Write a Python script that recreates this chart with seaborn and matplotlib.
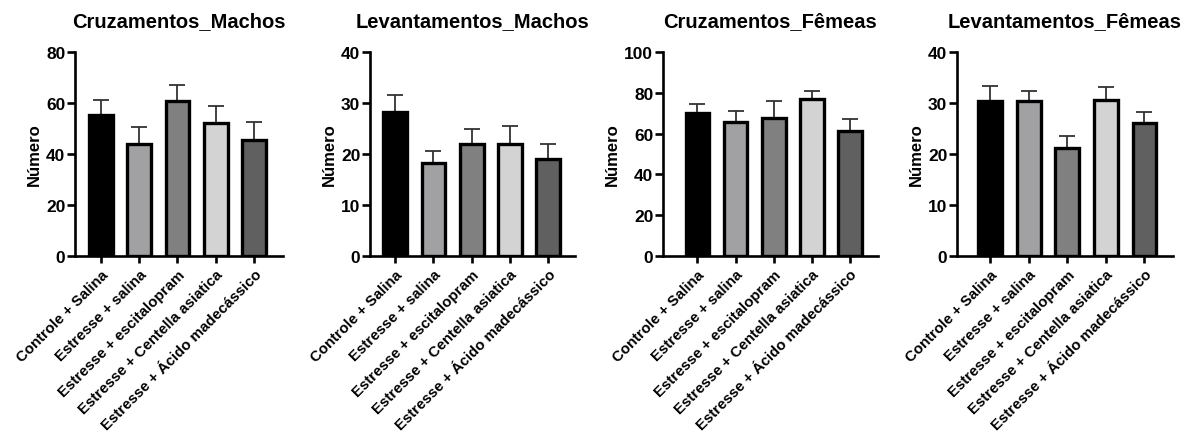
import matplotlib
matplotlib.use("Agg")
import matplotlib.pyplot as plt
import seaborn as sns
import pandas as pd
import numpy as np

groups = ["Controle + Salina", "Estresse + salina", "Estresse + escitalopram",
          "Estresse + Centella asiatica", "Estresse + Ácido madecássico"]
colors = ["#000000", "#a0a0a5", "#808080", "#d3d3d3", "#606060"]

titles = ["Cruzamentos_Machos", "Levantamentos_Machos", "Cruzamentos_Fêmeas", "Levantamentos_Fêmeas"]

cruz_machos = [55.3, 44.0, 60.7, 52.0, 45.4]
cruz_machos_err = [5.9, 6.6, 6.4, 6.7, 7.1]
lev_machos = [28.2, 18.2, 22.0, 21.9, 19.1]
lev_machos_err = [3.4, 2.4, 3.0, 3.5, 2.8]
cruz_femeas = [70.2, 65.8, 67.5, 77.0, 61.3]
cruz_femeas_err = [4.5, 5.4, 8.5, 3.9, 5.7]
lev_femeas = [30.3, 30.3, 21.2, 30.6, 26.0]
lev_femeas_err = [3.0, 2.0, 2.3, 2.5, 2.3]

means = [cruz_machos, lev_machos, cruz_femeas, lev_femeas]
errs = [cruz_machos_err, lev_machos_err, cruz_femeas_err, lev_femeas_err]
ymax = [80, 40, 100, 40]
ystep = [20, 10, 20, 10]

sns.set_theme(style="white")
plt.rcParams['font.family'] = ['Liberation Sans', 'DejaVu Sans']
plt.rcParams['font.weight'] = 'bold'
plt.rcParams['text.color'] = 'black'
plt.rcParams['axes.labelcolor'] = 'black'
plt.rcParams['xtick.color'] = 'black'
plt.rcParams['ytick.color'] = 'black'

W, H = 1189, 439
fig = plt.figure(figsize=(W / 100, H / 100), dpi=100)

# axes extents in pixels (left, right) and x-limits
px = [(75, 283), (370, 575), (663, 878), (957, 1173)]
xlims = [(-0.67, 4.75), (-0.66, 4.7), (-0.9, 4.73), (-0.86, 4.74)]
top_px, bot_px = 53, 257

for i in range(4):
    l, r = px[i]
    ax = fig.add_axes([l / W, 1 - bot_px / H, (r - l) / W, (bot_px - top_px) / H])
    df = pd.DataFrame({"grupo": groups, "valor": means[i]})
    sns.barplot(data=df, x="grupo", y="valor", hue="grupo", palette=colors,
                order=groups, hue_order=groups, legend=False, errorbar=None,
                width=0.62, edgecolor="black", linewidth=2.4, ax=ax, zorder=2)
    xs = np.arange(len(groups))
    ax.errorbar(xs, means[i], yerr=[np.zeros(len(groups)), errs[i]], fmt="none",
                ecolor="#333333", elinewidth=1.3, capsize=5.5, capthick=1.3, zorder=1)
    ax.set_ylim(0, ymax[i])
    ax.set_xlim(*xlims[i])
    ax.set_yticks(np.arange(0, ymax[i] + 1, ystep[i]))
    ax.set_xlabel("")
    ax.set_ylabel("Número", fontsize=12, fontweight="bold", labelpad=3)
    ax.set_title(titles[i], fontsize=14.5, fontweight="bold", pad=19, color="black")
    for s in ["top", "right"]:
        ax.spines[s].set_visible(False)
    for s in ["left", "bottom"]:
        ax.spines[s].set_linewidth(1.9)
        ax.spines[s].set_color("black")
    ax.tick_params(axis="y", length=6, width=1.9, labelsize=12.5, pad=1, left=True, color="black")
    ax.tick_params(axis="x", length=5, width=1.9, labelsize=10.8, pad=3, bottom=True, color="black")
    ax.set_xticks(xs)
    ax.set_xticklabels(groups, rotation=45, ha="right", rotation_mode="anchor", fontweight="bold")
    for t in ax.get_yticklabels():
        t.set_fontweight("bold")

fig.savefig("out.png", dpi=100)
